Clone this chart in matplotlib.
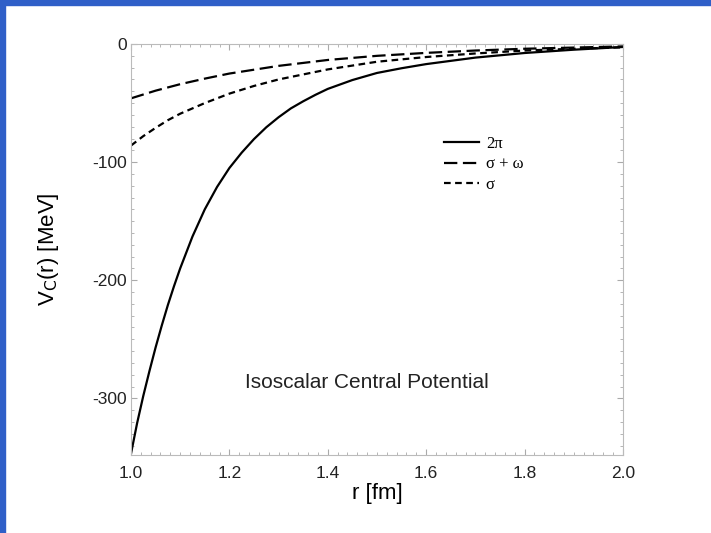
import matplotlib
matplotlib.use('Agg')
import matplotlib.pyplot as plt
from matplotlib.patches import Rectangle
from matplotlib.ticker import MultipleLocator

# 2pi exchange (solid)
r_2pi = [1.0, 1.0125, 1.025, 1.0375, 1.05, 1.0625, 1.075, 1.0875, 1.1, 1.125,
         1.15, 1.175, 1.2, 1.225, 1.25, 1.275, 1.3, 1.325, 1.35, 1.375, 1.4,
         1.45, 1.5, 1.55, 1.6, 1.7, 1.8, 1.9, 2.0]
v_2pi = [-347, -321, -298, -277, -257, -238.5, -221, -205, -190, -163,
         -140, -121, -105, -92, -80.5, -70.5, -62, -54.5, -48.5, -43, -38,
         -30.5, -24.5, -20.5, -17, -11.5, -7.6, -4.8, -2.5]

# sigma + omega (long dash)
r_sw = [1.0, 1.05, 1.1, 1.15, 1.2, 1.3, 1.4, 1.5, 1.6, 1.7, 1.8, 1.9, 2.0]
v_sw = [-46, -39.5, -34, -29.3, -25, -18.5, -13.5, -10, -7.5, -5.5, -4, -3, -2]

# sigma (short dash)
r_s = [1.0, 1.025, 1.05, 1.075, 1.1, 1.15, 1.2, 1.25, 1.3, 1.4, 1.5, 1.6,
       1.7, 1.8, 1.9, 2.0]
v_s = [-86, -78, -71, -64.5, -59, -50, -42, -35.5, -30, -21.5, -15, -11,
       -8, -5.5, -4, -2.8]

labels = ['2\u03c0', '\u03c3 + \u03c9', '\u03c3']
xticks = [1.0, 1.2, 1.4, 1.6, 1.8, 2.0]
yticks = [0, -100, -200, -300]

plt.rcParams['font.family'] = ['Liberation Sans', 'DejaVu Sans']

fig = plt.figure(figsize=(7.11, 5.33), dpi=100)
# blue frame on top and left edge
fig.patches.append(Rectangle((0, 1 - 5 / 533), 1, 5 / 533, transform=fig.transFigure,
                             color='#2f5fc8', zorder=10))
fig.patches.append(Rectangle((0, 0), 5 / 711, 1, transform=fig.transFigure,
                             color='#2f5fc8', zorder=10))

ax = fig.add_axes([0.1842, 0.1463, 0.692, 0.7711])

ax.plot(r_2pi, v_2pi, color='black', lw=1.6, label=labels[0])
ax.plot(r_sw, v_sw, color='black', lw=1.6, dashes=(6, 2.5), label=labels[1])
ax.plot(r_s, v_s, color='black', lw=1.6, dashes=(3, 2), label=labels[2])

ax.set_xlim(1.0, 2.0)
ax.set_ylim(-348, 0)
ax.set_xticks(xticks)
ax.set_xticklabels([f'{t:.1f}' for t in xticks])
ax.set_yticks(yticks)
ax.set_yticklabels([str(t) for t in yticks])
ax.xaxis.set_minor_locator(MultipleLocator(0.02))
ax.yaxis.set_minor_locator(MultipleLocator(10))

for s in ax.spines.values():
    s.set_color('#bbbbbb')
    s.set_linewidth(0.8)
ax.tick_params(which='both', direction='in', top=True, right=True,
               color='#aaaaaa', labelcolor='#222222', labelsize=12.5)
ax.tick_params(which='major', length=4, width=0.8)
ax.tick_params(axis='x', which='major', pad=8)
ax.tick_params(axis='y', which='major', pad=3)
ax.tick_params(which='minor', length=2, width=0.6)

ax.set_xlabel('r [fm]', fontsize=16, labelpad=1)
ax.set_ylabel('V$_{\\rm C}$(r) [MeV]', fontsize=16, labelpad=22)

ax.text(1.48, -287, 'Isoscalar Central Potential', fontsize=15,
        ha='center', va='center', color='#222222')

leg = ax.legend(loc='upper left', bbox_to_anchor=(0.606, 0.812), frameon=False,
                handlelength=2.1, handletextpad=0.4, labelspacing=0.25,
                prop={'family': ['Liberation Serif', 'DejaVu Serif'], 'size': 12})

fig.savefig('out.png', dpi=100)
